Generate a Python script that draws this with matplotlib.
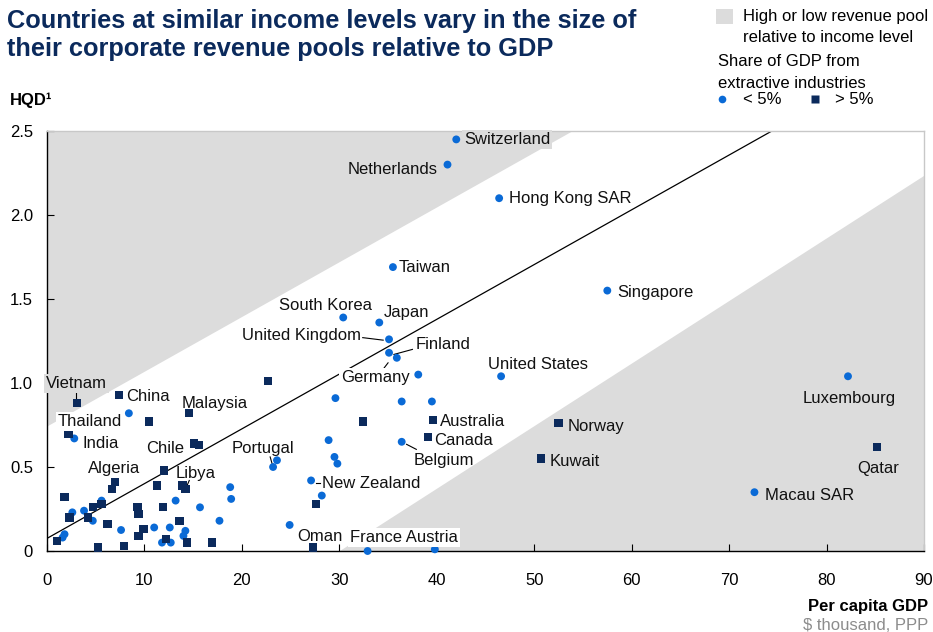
import matplotlib
matplotlib.use("Agg")
import matplotlib.pyplot as plt
from matplotlib.patches import Polygon, Rectangle
from matplotlib.lines import Line2D

plt.rcParams['font.family'] = ['Liberation Sans', 'DejaVu Sans']

# ---------------- data ----------------
# countries with < 5% of GDP from extractive industries (circles)
under5_x = [42.0, 41.1, 46.4, 35.5, 57.5, 30.4, 34.1, 35.1, 35.1, 35.9, 46.6, 82.2, 72.6,
            36.4, 27.1, 32.9, 39.8, 23.2, 23.6, 2.8,
            38.1, 29.6, 36.4, 39.5, 28.9, 29.5, 29.8, 28.2, 24.9, 8.4, 18.8, 18.9,
            2.6, 3.8, 5.6, 4.7, 7.6, 11.0, 13.2, 12.6, 14.2, 14.0, 11.8, 12.7,
            1.6, 1.8, 15.7, 17.7]
under5_y = [2.45, 2.30, 2.10, 1.69, 1.55, 1.39, 1.36, 1.26, 1.18, 1.15, 1.04, 1.04, 0.35,
            0.65, 0.42, 0.00, 0.01, 0.50, 0.54, 0.67,
            1.05, 0.91, 0.89, 0.89, 0.66, 0.56, 0.52, 0.33, 0.155, 0.82, 0.38, 0.31,
            0.23, 0.24, 0.30, 0.18, 0.125, 0.14, 0.30, 0.14, 0.12, 0.09, 0.05, 0.05,
            0.08, 0.10, 0.26, 0.18]

# countries with > 5% of GDP from extractive industries (squares)
over5_x = [52.5, 50.7, 85.2, 39.6, 39.1, 27.3, 3.1, 7.4, 2.2, 14.6, 15.1, 15.6, 14.2, 7.0, 6.7,
           32.4, 27.6, 10.5, 22.7, 12.0, 13.9, 11.3, 1.8, 2.3, 4.7, 5.6, 4.2, 6.2,
           9.3, 9.4, 9.9, 9.4, 11.9, 13.6, 12.2, 14.4, 1.0, 5.2, 7.9, 16.9]
over5_y = [0.76, 0.55, 0.62, 0.78, 0.68, 0.02, 0.88, 0.93, 0.70, 0.82, 0.64, 0.63, 0.37, 0.41, 0.37,
           0.77, 0.28, 0.77, 1.01, 0.48, 0.39, 0.39, 0.32, 0.20, 0.26, 0.28, 0.20, 0.16,
           0.26, 0.22, 0.13, 0.09, 0.26, 0.18, 0.07, 0.05, 0.06, 0.02, 0.03, 0.05]

# reference lines (intercept, slope)
mid_line = (0.075, 0.0326)
upper_bound = (0.74, 0.0326)
lower_bound = (-1.118, 0.0372)

x_ticks = [0, 10, 20, 30, 40, 50, 60, 70, 80, 90]
y_ticks = [0, 0.5, 1.0, 1.5, 2.0, 2.5]
y_ticklabels = ["0", "0.5", "1.0", "1.5", "2.0", "2.5"]

# labels: text, x, y, ha, box colour, leader line (x0,y0,x1,y1) or None
labels = [
    ("Switzerland", 42.8, 2.45, "left", "#dcdcdc", None),
    ("Netherlands", 40.1, 2.27, "right", None, None),
    ("Hong Kong SAR", 47.4, 2.10, "left", None, None),
    ("Taiwan", 36.1, 1.69, "left", None, None),
    ("Singapore", 58.5, 1.54, "left", None, None),
    ("South Korea", 28.6, 1.46, "center", None, None),
    ("Japan", 34.6, 1.42, "left", None, None),
    ("United Kingdom", 32.2, 1.28, "right", None, (32.4, 1.27, 34.5, 1.255)),
    ("Finland", 37.8, 1.23, "left", None, (35.6, 1.17, 37.5, 1.20)),
    ("Germany", 33.7, 1.03, "center", "white", (35.0, 1.12, 34.6, 1.09)),
    ("United States", 50.4, 1.11, "center", None, None),
    ("Luxembourg", 82.3, 0.91, "center", None, None),
    ("Norway", 53.4, 0.74, "left", None, None),
    ("Kuwait", 51.6, 0.53, "left", None, None),
    ("Qatar", 85.3, 0.49, "center", None, None),
    ("Macau SAR", 73.7, 0.33, "left", None, None),
    ("Australia", 40.3, 0.77, "left", None, None),
    ("Canada", 39.7, 0.66, "left", None, None),
    ("Belgium", 37.6, 0.54, "left", None, (36.9, 0.635, 37.9, 0.605)),
    ("New Zealand", 28.2, 0.40, "left", None, (27.6, 0.405, 28.0, 0.405)),
    ("Oman", 28.0, 0.085, "center", None, None),
    ("France Austria", 31.1, 0.08, "left", "white", None),
    ("Portugal", 22.2, 0.61, "center", None, (22.9, 0.56, 23.1, 0.52)),
    ("Vietnam", 3.0, 1.00, "center", "#dcdcdc", (3.0, 0.94, 3.0, 0.91)),
    ("China", 8.1, 0.92, "left", None, None),
    ("Thailand", 4.4, 0.77, "center", "white", None),
    ("India", 3.6, 0.64, "left", None, None),
    ("Malaysia", 17.2, 0.88, "center", None, None),
    ("Chile", 12.1, 0.61, "center", None, None),
    ("Algeria", 6.9, 0.49, "center", None, None),
    ("Libya", 15.3, 0.46, "center", None, (14.6, 0.42, 14.3, 0.38)),
]

# ---------------- figure ----------------
navy = "#0b2a5c"
blue = "#0a6ad6"
grey = "#dcdcdc"

fig = plt.figure(figsize=(9.33, 6.32), dpi=100)
ax = fig.add_axes([47 / 933, 81 / 632, 877 / 933, 420 / 632])
ax.set_xlim(0, 90)
ax.set_ylim(0, 2.5)

# shaded regions
b0, m = upper_bound
x_top = (2.5 - b0) / m
ax.add_patch(Polygon([(0, b0), (x_top, 2.5), (0, 2.5)], closed=True,
                     facecolor=grey, edgecolor="none", zorder=0))
b0, m = lower_bound
ax.add_patch(Polygon([(-b0 / m, 0), (90, 0), (90, b0 + m * 90)], closed=True,
                     facecolor=grey, edgecolor="none", zorder=0))

# middle line
b0, m = mid_line
x_end = (2.5 - b0) / m
ax.plot([0, x_end], [b0, 2.5], color="black", lw=0.9, zorder=2)

# points
ax.scatter(under5_x, under5_y, s=32, marker="o", color=blue, edgecolor="none",
           zorder=4, clip_on=False)
ax.scatter(over5_x, over5_y, s=36, marker="s", color=navy, edgecolor="none",
           zorder=4, clip_on=False)

# labels
for text, tx, ty, ha, box, leader in labels:
    kw = {}
    if box is not None:
        kw["bbox"] = dict(facecolor=box, edgecolor="none", pad=1.5)
    ax.text(tx, ty, text, ha=ha, va="center", fontsize=12, color="#111111",
            zorder=5, **kw)
    if leader is not None:
        ax.plot([leader[0], leader[2]], [leader[1], leader[3]], color="black",
                lw=0.8, zorder=3)

# axes styling
for side in ["left", "bottom"]:
    ax.spines[side].set_color("black")
    ax.spines[side].set_linewidth(1.0)
for side in ["top", "right"]:
    ax.spines[side].set_color("#c8c8c8")
    ax.spines[side].set_linewidth(1.0)
ax.set_xticks(x_ticks)
ax.set_xticklabels([str(t) for t in x_ticks])
ax.set_yticks(y_ticks)
ax.set_yticklabels(y_ticklabels)
ax.tick_params(direction="in", length=5, width=0.8, labelsize=12, colors="black",
               top=False, right=False)
ax.tick_params(axis="x", pad=16)
ax.tick_params(axis="y", pad=10)

# title
fig.text(7 / 933, 1 - 21 / 632, "Countries at similar income levels vary in the size of",
         fontsize=18.3, fontweight="bold", color=navy, ha="left", va="center")
fig.text(7 / 933, 1 - 49 / 632, "their corporate revenue pools relative to GDP",
         fontsize=18.3, fontweight="bold", color=navy, ha="left", va="center")

# axis titles
fig.text(10 / 933, 1 - 100 / 632, "HQD\u00b9", fontsize=12, fontweight="bold",
         ha="left", va="center")
fig.text(928 / 933, 1 - 606 / 632, "Per capita GDP", fontsize=12, fontweight="bold",
         ha="right", va="center")
fig.text(928 / 933, 1 - 625 / 632, "$ thousand, PPP", fontsize=12, color="#8c8c8c",
         ha="right", va="center")

# legend
fig.patches.append(Rectangle((716 / 933, 1 - 24 / 632), 17 / 933, 15 / 632,
                             transform=fig.transFigure, facecolor=grey,
                             edgecolor="none"))
fig.text(743 / 933, 1 - 16 / 632, "High or low revenue pool", fontsize=12,
         ha="left", va="center")
fig.text(743 / 933, 1 - 37 / 632, "relative to income level", fontsize=12,
         ha="left", va="center")
fig.text(718 / 933, 1 - 62 / 632, "Share of GDP from", fontsize=12,
         ha="left", va="center")
fig.text(718 / 933, 1 - 83 / 632, "extractive industries", fontsize=12,
         ha="left", va="center")
fig.add_artist(Line2D([722 / 933], [1 - 99 / 632], marker="o", markersize=5.5,
                      color=blue, markeredgecolor="none", transform=fig.transFigure))
fig.text(743 / 933, 1 - 100 / 632, "< 5%", fontsize=12, ha="left", va="center")
fig.add_artist(Line2D([815 / 933], [1 - 99 / 632], marker="s", markersize=6,
                      color=navy, markeredgecolor="none", transform=fig.transFigure))
fig.text(835 / 933, 1 - 100 / 632, "> 5%", fontsize=12, ha="left", va="center")

fig.savefig("out.png", dpi=100)
